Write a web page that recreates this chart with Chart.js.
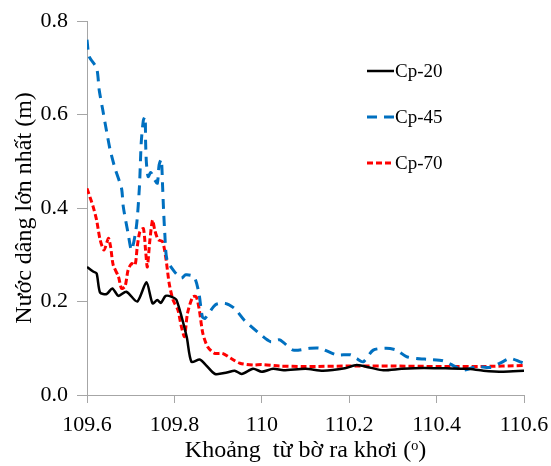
<!DOCTYPE html>
<html>
<head>
<meta charset="utf-8">
<script src="https://cdn.jsdelivr.net/npm/chart.js@4"></script>
<style>
  html, body { margin: 0; padding: 0; background: #fff; }
  #wrap { width: 551px; height: 466px; }
</style>
</head>
<body>
<div id="wrap"><canvas id="grafico"></canvas></div>
<script>
// Datos
const xTicks = [109.6, 109.8, 110, 110.2, 110.4, 110.6];
const yTicks = [0, 0.2, 0.4, 0.6, 0.8];

const cp20X = [109.600, 109.614, 109.622, 109.630, 109.645, 109.658, 109.672, 109.690, 109.715, 109.736,
               109.750, 109.761, 109.769, 109.780, 109.794, 109.805, 109.828, 109.839, 109.858, 109.872,
               109.893, 109.920, 109.938, 109.954, 109.980, 110.000, 110.026, 110.050, 110.100, 110.140,
               110.190, 110.217, 110.250, 110.278, 110.320, 110.370, 110.420, 110.470, 110.507, 110.553, 110.600];
const cp20Y = [0.274, 0.264, 0.260, 0.219, 0.216, 0.228, 0.212, 0.221, 0.200, 0.241,
               0.196, 0.203, 0.197, 0.212, 0.210, 0.203, 0.125, 0.071, 0.076, 0.064,
               0.045, 0.048, 0.052, 0.045, 0.056, 0.050, 0.056, 0.053, 0.056, 0.052,
               0.057, 0.064, 0.058, 0.053, 0.056, 0.058, 0.057, 0.056, 0.052, 0.050, 0.052];

const cp45X = [109.600, 109.605, 109.622, 109.628, 109.636, 109.645, 109.653, 109.664, 109.679, 109.683,
               109.694, 109.702, 109.713, 109.720, 109.724, 109.729, 109.733, 109.734, 109.736, 109.740,
               109.746, 109.755, 109.761, 109.765, 109.770, 109.773, 109.775, 109.778, 109.783, 109.800,
               109.816, 109.826, 109.845, 109.856, 109.864, 109.870, 109.894, 109.916, 109.938, 109.960,
               109.990, 110.020, 110.041, 110.072, 110.110, 110.133, 110.171, 110.202, 110.217, 110.232,
               110.255, 110.285, 110.308, 110.331, 110.354, 110.385, 110.415, 110.438, 110.461, 110.492,
               110.522, 110.545, 110.568, 110.591, 110.600];
const cp45Y = [0.760, 0.724, 0.699, 0.652, 0.610, 0.563, 0.524, 0.485, 0.442, 0.403,
               0.346, 0.310, 0.360, 0.446, 0.538, 0.588, 0.595, 0.545, 0.496, 0.467,
               0.476, 0.460, 0.453, 0.492, 0.504, 0.446, 0.400, 0.346, 0.289, 0.264,
               0.250, 0.257, 0.253, 0.218, 0.167, 0.164, 0.193, 0.196, 0.185, 0.160,
               0.135, 0.114, 0.118, 0.096, 0.100, 0.100, 0.086, 0.086, 0.078, 0.071,
               0.096, 0.100, 0.096, 0.082, 0.078, 0.076, 0.073, 0.063, 0.053, 0.061,
               0.059, 0.068, 0.078, 0.071, 0.068];

const cp70X = [109.600, 109.614, 109.622, 109.630, 109.639, 109.649, 109.654, 109.660, 109.672, 109.679,
               109.687, 109.694, 109.702, 109.710, 109.715, 109.721, 109.729, 109.734, 109.738, 109.744,
               109.750, 109.755, 109.763, 109.773, 109.781, 109.788, 109.797, 109.808, 109.816, 109.823,
               109.830, 109.842, 109.850, 109.857, 109.865, 109.876, 109.892, 109.910, 109.930, 109.950,
               109.980, 110.000, 110.040, 110.100, 110.200, 110.300, 110.400, 110.500, 110.600];
const cp70Y = [0.442, 0.403, 0.374, 0.332, 0.310, 0.335, 0.317, 0.278, 0.253, 0.228,
               0.232, 0.267, 0.281, 0.278, 0.317, 0.349, 0.356, 0.310, 0.274, 0.332,
               0.374, 0.353, 0.332, 0.328, 0.289, 0.239, 0.203, 0.182, 0.146, 0.125,
               0.175, 0.210, 0.210, 0.182, 0.132, 0.103, 0.089, 0.089, 0.078, 0.068,
               0.064, 0.065, 0.062, 0.061, 0.062, 0.062, 0.061, 0.061, 0.063];

const toPoints = (xs, ys) => xs.map((x, i) => ({ x: x, y: ys[i] }));

const fuente = "'Liberation Serif', 'Times New Roman', serif";

// Leyenda dibujada dentro del area del grafico
const leyenda = {
    id: 'leyenda',
    afterDraw(chart) {
        const ctx = chart.ctx;
        const items = chart.data.datasets;
        ctx.save();
        ctx.font = '19px ' + fuente;
        ctx.textBaseline = 'middle';
        items.forEach((ds, i) => {
            const y = 71 + i * 46;
            ctx.strokeStyle = ds.borderColor;
            ctx.lineWidth = ds.borderWidth;
            ctx.setLineDash(ds.borderDash || []);
            ctx.beginPath();
            ctx.moveTo(367, y);
            ctx.lineTo(394, y);
            ctx.stroke();
            ctx.setLineDash([]);
            ctx.fillStyle = '#000';
            ctx.fillText(ds.label, 395, y + 1);
        });
        ctx.restore();
    }
};

new Chart(document.getElementById('grafico'), {
    type: 'line',
    data: {
        datasets: [
            {
                label: 'Cp-20',
                data: toPoints(cp20X, cp20Y),
                borderColor: '#000000',
                borderWidth: 2.5,
                pointRadius: 0,
                tension: 0.25,
                fill: false
            },
            {
                label: 'Cp-45',
                data: toPoints(cp45X, cp45Y),
                borderColor: '#0070C0',
                borderWidth: 3,
                borderDash: [10, 7],
                pointRadius: 0,
                tension: 0.25,
                fill: false
            },
            {
                label: 'Cp-70',
                data: toPoints(cp70X, cp70Y),
                borderColor: '#FF0000',
                borderWidth: 3,
                borderDash: [6, 3],
                pointRadius: 0,
                tension: 0.25,
                fill: false
            }
        ]
    },
    options: {
        responsive: true,
        maintainAspectRatio: false,
        animation: false,
        layout: { padding: { top: 21, right: 27, left: 0, bottom: 0 } },
        plugins: {
            legend: { display: false },
            tooltip: { enabled: false }
        },
        scales: {
            x: {
                type: 'linear',
                min: 109.6,
                max: 110.6,
                afterBuildTicks: (scale) => { scale.ticks = xTicks.map(v => ({ value: v })); },
                afterFit: (scale) => {
                    scale.height = 71;
                    scale.paddingLeft = 0;
                    scale.paddingRight = 0;
                },
                border: { color: '#a6a6a6', width: 1 },
                grid: { drawOnChartArea: false, color: '#a6a6a6', tickLength: 8 },
                ticks: {
                    color: '#000',
                    padding: 9,
                    maxRotation: 0,
                    font: { family: fuente, size: 22 },
                    callback: (v) => String(Number(v.toFixed(1)))
                },
                title: {
                    display: true,
                    text: 'Khoảng  từ bờ ra khơi (ᵒ)',
                    color: '#000',
                    padding: { top: 0, bottom: 1 },
                    font: { family: fuente, size: 24 }
                }
            },
            y: {
                min: 0,
                max: 0.8,
                afterBuildTicks: (scale) => { scale.ticks = yTicks.map(v => ({ value: v })); },
                afterFit: (scale) => {
                    scale.width = 87;
                    scale.paddingTop = 0;
                    scale.paddingBottom = 0;
                },
                border: { color: '#a6a6a6', width: 1 },
                grid: { drawOnChartArea: false, color: '#a6a6a6', tickLength: 10 },
                ticks: {
                    color: '#000',
                    padding: 9,
                    font: { family: fuente, size: 22 },
                    callback: (v) => v.toFixed(1)
                },
                title: {
                    display: true,
                    text: 'Nước dâng lớn nhất (m)',
                    color: '#000',
                    padding: { top: 10, bottom: 0 },
                    font: { family: fuente, size: 24 }
                }
            }
        }
    },
    plugins: [leyenda]
});
</script>
</body>
</html>
